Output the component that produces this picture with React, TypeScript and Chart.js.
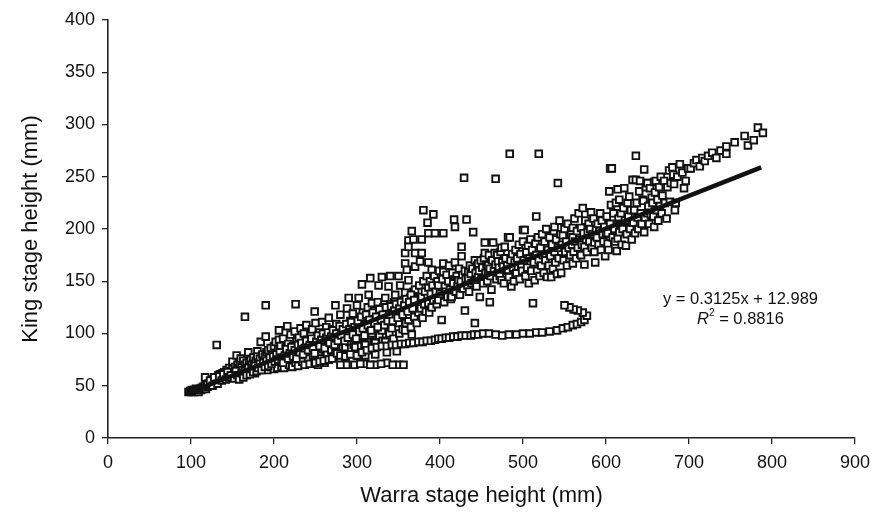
import React, { useEffect, useRef } from 'react';
import { Chart, registerables } from 'chart.js';

Chart.register(...registerables);

// ---- Data (Warra stage height [mm], King stage height [mm]) ----
const bandA: [number, number][] = [
  [97,44],[99,45],[100,44],[101,46],[102,45],[103,44],[104,46],[105,45],[106,47],[107,45],[108,46],[109,44],[110,46],[111,47],[112,46],[113,48],[114,47],[115,49],[116,48],[117,50],[117,58],[118,47],[119,51],[120,49],[121,52],[122,50],[123,53],[124,51],[125,54],[126,52],[127,56],[128,53],[129,57],[130,54],[131,58],[131,89],[132,55],[133,60],[134,56],[135,61],[136,57],[137,59],[138,62],[139,58],[140,63],[141,57],[142,61],[143,65],[144,59],[145,62],[146,67],[147,60],[148,64],[149,58],[150,73],[150,66],[151,61],[152,63],[153,68],[154,60],[155,79],[155,65],[156,70],[157,62],[158,67],[159,72],[160,63],[160,76],[161,68],[162,65],[163,74],[164,61],[165,116],[165,70],[166,66],[167,72],[168,63],[169,82],[170,73],[170,68],[171,64],[172,75],[173,70],[174,66],[175,77],[176,71],[177,62],[178,74],[179,68],[180,83],[180,78],[181,72],[182,65],[183,76],[184,92],[185,70],[186,80],[187,67],[188,74],[189,78],[190,97],[190,127],[190,70],[191,82],[192,65],[193,84],[194,76],[195,72],[196,86],[197,68],[198,80],[199,74],[200,88]
];

const bandB: [number, number][] = [
  [200,66],[201,78],[202,92],[203,71],[204,67],[205,84],[206,103],[206,94],[207,75],[208,88],[209,68],[210,80],[211,95],[212,67],[213,72],[214,86],[215,78],[216,107],[217,90],[218,70],[219,83],[220,99],[221,75],[222,68],[223,88],[224,80],[225,102],[226,128],[226,72],[227,92],[228,84],[229,69],[230,96],[231,78],[232,105],[233,86],[234,73],[235,90],[236,100],[237,70],[238,82],[239,108],[240,94],[241,76],[242,88],[243,71],[244,98],[245,84],[246,104],[247,79],[248,92],[249,121],[249,73],[250,110],[251,87],[252,96],[253,70],[254,82],[255,101],[256,76],[257,90],[258,111],[259,85],[260,98],[261,72],[262,93],[263,106],[264,80],[265,88],[266,115],[266,75],[267,100],[268,92],[269,84],[270,104],[271,91],[272,78],[273,96],[274,127],[274,84],[275,109],[276,81],[277,99],[278,103],[279,88],[280,118],[281,94],[282,94],[283,86],[284,106],[285,98],[286,78],[286,87],[287,70],[288,124],[289,100],[290,134],[290,106],[291,92],[292,112],[293,86],[294,96],[295,119],[296,89],[297,103],[298,87],[299,110],[300,79]
];

const bandC: [number, number][] = [
  [300,127],[302,134],[302,108],[303,96],[304,115],[305,88],[306,147],[306,97],[307,120],[308,102],[309,90],[310,89],[310,79],[310,71],[311,112],[312,105],[313,125],[314,137],[314,110],[315,98],[316,153],[317,118],[318,129],[318,100],[319,108],[320,92],[321,122],[322,91],[322,80],[322,70],[323,113],[324,104],[325,130],[326,146],[326,111],[327,98],[328,120],[329,107],[330,154],[330,103],[331,93],[332,125],[333,115],[334,134],[334,92],[335,110],[336,82],[336,72],[337,120],[338,145],[338,115],[339,100],[340,155],[340,128],[341,108],[342,105],[343,118],[344,95],[345,130],[346,137],[347,112],[348,83],[349,123],[350,155],[350,120],[350,110],[350,70],[351,100],[352,146],[353,126],[354,115],[355,104],[356,132],[357,120],[358,177],[358,167],[358,139],[358,103],[359,110],[360,161],[361,126],[362,189],[362,183],[362,151],[362,127],[362,113],[363,118],[364,134],[365,106],[366,198],[366,99],[367,122],[368,190],[368,140],[369,116],[370,177],[370,164],[370,142],[371,128],[372,110],[373,133],[374,129],[374,120],[375,146],[376,169],[377,124],[378,190],[378,177],[378,135],[379,115],[380,218],[380,150],[381,128],[382,140],[383,121],[384,155],[385,206],[385,134],[386,196],[386,168],[386,144],[386,129],[387,120],[388,150],[389,138],[390,161],[390,125],[391,146],[392,214],[392,132],[393,155],[394,196],[395,140],[396,128],[397,150],[398,146],[398,132],[399,160],[400,138]
];

const bandD: [number, number][] = [
  [402,113],[403,152],[404,196],[404,167],[404,159],[405,130],[406,145],[407,140],[408,156],[409,135],[410,150],[411,165],[412,142],[413,133],[414,135],[415,158],[416,148],[417,209],[418,202],[418,168],[419,140],[420,155],[421,145],[422,151],[423,162],[424,137],[425,150],[426,183],[426,174],[427,156],[428,143],[429,249],[430,122],[430,160],[431,152],[432,209],[433,146],[434,159],[434,153],[435,140],[436,165],[437,157],[438,148],[439,162],[440,197],[441,150],[442,170],[442,110],[443,158],[444,145],[445,165],[446,167],[446,154],[447,160],[448,135],[449,170],[450,152],[451,163],[452,148],[453,172],[454,187],[454,177],[455,158],[456,166],[457,150],[458,165],[458,158],[459,175],[460,130],[460,162],[461,155],[462,142],[463,170],[464,187],[465,160],[466,177],[467,248],[467,166],[468,152],[469,175],[470,169],[470,159],[471,163],[472,155],[473,178],[474,182],[474,151],[475,168],[476,164],[477,148],[478,183],[479,172],[480,160],[481,165],[482,192],[482,161],[483,154],[484,272],[484,192],[485,170],[486,145],[487,176],[488,163],[489,150],[490,168],[491,180],[492,158],[493,172],[494,164],[495,185],[496,152],[497,176],[498,164],[499,160],[500,188],[500,199]
];

const bandE: [number, number][] = [
  [501,170],[502,199],[503,155],[504,178],[505,163],[506,184],[507,148],[508,172],[509,190],[510,160],[511,180],[512,129],[513,168],[514,151],[515,186],[516,212],[516,175],[517,160],[518,192],[519,272],[519,170],[520,155],[521,182],[522,165],[523,195],[524,175],[525,158],[526,188],[527,170],[528,200],[529,154],[530,180],[531,165],[532,192],[533,174],[534,154],[535,185],[536,162],[537,198],[538,178],[538,202],[539,168],[540,190],[541,157],[542,244],[542,182],[543,172],[544,208],[545,195],[546,158],[547,185],[548,194],[549,170],[550,200],[551,178],[552,188],[553,165],[554,205],[555,182],[556,172],[557,175],[558,195],[559,185],[560,201],[560,192],[560,167],[561,178],[562,210],[563,188],[564,172],[565,198],[566,182],[567,215],[568,190],[569,176],[570,201],[570,175],[571,185],[572,220],[573,196],[574,183],[574,166],[575,208],[576,190],[577,178],[578,197],[579,205],[580,188],[581,200],[582,216],[583,182],[584,195],[585,210],[586,187],[586,178],[587,168],[588,200],[589,192],[590,205],[591,185],[592,198],[593,215],[594,180],[595,208],[596,195],[597,188],[598,202],[599,174],[600,196]
];

const bandF: [number, number][] = [
  [601,212],[602,196],[602,186],[603,180],[604,236],[605,205],[605,258],[606,223],[607,258],[608,192],[609,215],[610,200],[611,188],[612,225],[613,179],[614,238],[614,191],[615,210],[616,228],[616,197],[617,205],[618,215],[619,185],[620,200],[621,220],[622,239],[623,208],[624,184],[625,195],[626,225],[627,212],[628,231],[629,200],[630,218],[631,190],[632,247],[633,206],[634,218],[635,196],[636,270],[636,247],[637,225],[638,211],[639,200],[640,236],[641,246],[642,215],[643,205],[644,228],[645,227],[646,257],[646,197],[647,211],[648,240],[649,244],[650,215],[650,244],[651,222],[652,205],[653,239],[654,214],[655,230],[656,225],[657,212],[658,245],[658,202],[659,235],[660,246],[661,218],[662,228],[663,208],[664,240],[665,222],[666,250],[667,215],[668,232],[670,246],[671,225],[673,210],[674,240],[676,256],[677,226],[678,244],[680,259],[681,252],[682,243],[683,218],[684,225],[686,250],[689,262],[692,254],[694,239],[696,246],[699,258],[702,258],[706,263],[709,266],[713,260],[716,268],[719,265],[723,270],[728,273],[733,268],[738,275],[745,279],[745,272],[755,283],[767,289],[771,280],[778,285],[783,297],[789,292]
];

const denseCore: [number, number][] = [
  [120,51],[123,55],[126,50],[128,58],[132,52],[134,59],[137,55],[139,61],[142,56],[144,63],[146,58],[148,60],[152,57],[154,64],[156,60],[158,56],[161,62],[163,58],[165,64],[167,60],[169,67],[171,61],[173,66],[175,63],[177,69],[179,64],[181,67],[183,71],[185,65],[187,72],[189,68],[191,74],[193,69],[195,77],[197,71],[199,78],[201,73],[203,80],[205,75],[207,82],[209,77],[211,72],[213,79],[215,85],[217,76],[219,81],[221,87],[223,78],[225,84],[227,76],[229,89],[231,82],[233,91],[235,80],[237,86],[239,93],[241,84],[243,89],[245,95],[247,86],[249,81],[251,92],[253,98],[255,88],[257,94],[259,100],[261,86],[263,96],[265,101],[267,91],[269,97],[271,103],[273,89],[275,100],[277,93],[279,107],[281,98],[283,104],[285,93],[287,109],[289,96],[291,104],[293,111],[295,99],[297,106],[299,95],[301,112],[303,102],[305,116],[307,105],[309,98],[311,118],[313,108],[315,113],[317,103],[319,120],[321,110],[323,116],[325,106],[327,123],[329,113],[331,118],[333,108],[335,125],[337,112],[339,118],[341,126],[343,112],[345,122],[347,128],[349,115],[351,124],[353,130],[355,118],[357,127],[359,133],[361,121],[363,130],[365,137],[367,124],[369,132]
];

const lowerArm: [number, number][] = [
  [250,72],[255,73],[260,74],[266,75],[270,76],[276,81],[280,79],[286,78],[292,80],[300,79],[306,82],[312,84],[318,86],[324,87],[330,88],[336,88],[342,89],[347,89],[353,90],[358,90],[363,91],[368,91],[374,92],[379,92],[384,93],[389,93],[394,94],[398,95],[402,95],[407,96],[411,96],[416,97],[421,97],[426,98],[431,98],[437,98],[441,99],[446,99],[452,100],[459,100],[467,99],[475,98],[483,99],[492,99],[500,100],[508,100],[516,101],[523,101],[532,102],[541,103],[548,105],[554,106],[560,108],[565,109],[570,111],[574,113],[577,117],[572,120],[566,122],[561,123],[556,125],[550,127],
  [280,70],[297,70],[304,71],[316,70],[329,71],[343,70],[356,70]
];

// Fitted trend line end points (y = 0.3125x + 12.989)
const trendLine: [number, number][] = [[100, 44], [787, 259]];

const xTickValues = [0, 100, 200, 300, 400, 500, 600, 700, 800, 900];
const yTickValues = [0, 50, 100, 150, 200, 250, 300, 350, 400];

const equationText = 'y = 0.3125x + 12.989';
const r2Value = ' = 0.8816';

const FONT = '"Liberation Sans", Arial, Helvetica, sans-serif';

const equationPlugin = {
  id: 'equationText',
  afterDraw(chart: any) {
    const ctx = chart.ctx as CanvasRenderingContext2D;
    const xs = chart.scales.x;
    const ys = chart.scales.y;
    const cx = xs.getPixelForValue(762);
    const y1 = ys.getPixelForValue(133);
    const y2 = y1 + 20;
    ctx.save();
    ctx.fillStyle = '#111';
    ctx.textBaseline = 'middle';
    ctx.font = `16.5px ${FONT}`;
    ctx.textAlign = 'center';
    ctx.fillText(equationText, cx, y1);
    // second line: R² = 0.8816
    ctx.textAlign = 'left';
    ctx.font = `italic 16.5px ${FONT}`;
    const wR = ctx.measureText('R').width;
    ctx.font = `10px ${FONT}`;
    const w2 = ctx.measureText('2').width;
    ctx.font = `16.5px ${FONT}`;
    const wRest = ctx.measureText(r2Value).width;
    const total = wR + w2 + wRest;
    let x = cx - total / 2;
    ctx.font = `italic 16.5px ${FONT}`;
    ctx.fillText('R', x, y2);
    x += wR;
    ctx.font = `10px ${FONT}`;
    ctx.fillText('2', x, y2 - 6);
    x += w2;
    ctx.font = `16.5px ${FONT}`;
    ctx.fillText(r2Value, x, y2);
    ctx.restore();
  },
};

export default function App() {
  const canvasRef = useRef<HTMLCanvasElement | null>(null);

  useEffect(() => {
    document.body.style.margin = '0';
    const canvas = canvasRef.current;
    if (!canvas) return;
    const toXY = (arr: [number, number][]) => arr.map(([x, y]) => ({ x, y }));
    const points = [
      ...toXY(bandA), ...toXY(bandB), ...toXY(bandC), ...toXY(bandD),
      ...toXY(bandE), ...toXY(bandF), ...toXY(denseCore), ...toXY(lowerArm),
    ];
    const chart = new Chart(canvas, {
      type: 'scatter',
      data: {
        datasets: [
          {
            type: 'line',
            label: 'Trend',
            data: toXY(trendLine),
            borderColor: '#111',
            borderWidth: 4.5,
            pointRadius: 0,
            fill: false,
          } as any,
          {
            label: 'Observations',
            data: points,
            pointStyle: 'rect',
            pointRadius: 4.7,
            pointBorderWidth: 1.9,
            borderColor: '#111',
            backgroundColor: '#ffffff',
            pointBackgroundColor: '#ffffff',
            pointBorderColor: '#111',
          } as any,
        ],
      },
      options: {
        animation: false,
        responsive: false,
        maintainAspectRatio: false,
        layout: { padding: { top: 20, right: 24, bottom: 0, left: 0 } },
        plugins: {
          legend: { display: false },
          tooltip: { enabled: false },
        },
        scales: {
          x: {
            type: 'linear',
            min: 0,
            max: 900,
            afterBuildTicks: (scale: any) => {
              scale.ticks = xTickValues.map((v) => ({ value: v }));
            },
            afterFit: (scale: any) => {
              scale.height = 77;
            },
            ticks: {
              color: '#111',
              font: { family: FONT, size: 18 },
              padding: 8,
              maxRotation: 0,
            },
            grid: {
              drawOnChartArea: false,
              drawTicks: true,
              tickLength: 6,
              color: '#222',
              lineWidth: 1.3,
            },
            border: { display: true, color: '#222', width: 1.6 },
            title: {
              display: true,
              text: 'Warra stage height (mm)',
              color: '#111',
              font: { family: FONT, size: 22 },
              padding: { top: 0, bottom: 6 },
            },
          },
          y: {
            type: 'linear',
            min: 0,
            max: 400,
            afterBuildTicks: (scale: any) => {
              scale.ticks = yTickValues.map((v) => ({ value: v }));
            },
            afterFit: (scale: any) => {
              scale.width = 108;
            },
            ticks: {
              color: '#111',
              font: { family: FONT, size: 18 },
              padding: 7,
            },
            grid: {
              drawOnChartArea: false,
              drawTicks: true,
              tickLength: 6,
              color: '#222',
              lineWidth: 1.3,
            },
            border: { display: true, color: '#222', width: 1.6 },
            title: {
              display: true,
              text: 'King stage height (mm)',
              color: '#111',
              font: { family: FONT, size: 22 },
              padding: { top: 18, bottom: 0 },
            },
          },
        },
      },
      plugins: [equationPlugin],
    });
    return () => chart.destroy();
  }, []);

  return (
    <div style={{ position: 'absolute', left: 0, top: 0, width: 879, height: 515, background: '#fff' }}>
      <canvas ref={canvasRef} width={879} height={515} style={{ display: 'block', width: 879, height: 515 }} />
    </div>
  );
}
